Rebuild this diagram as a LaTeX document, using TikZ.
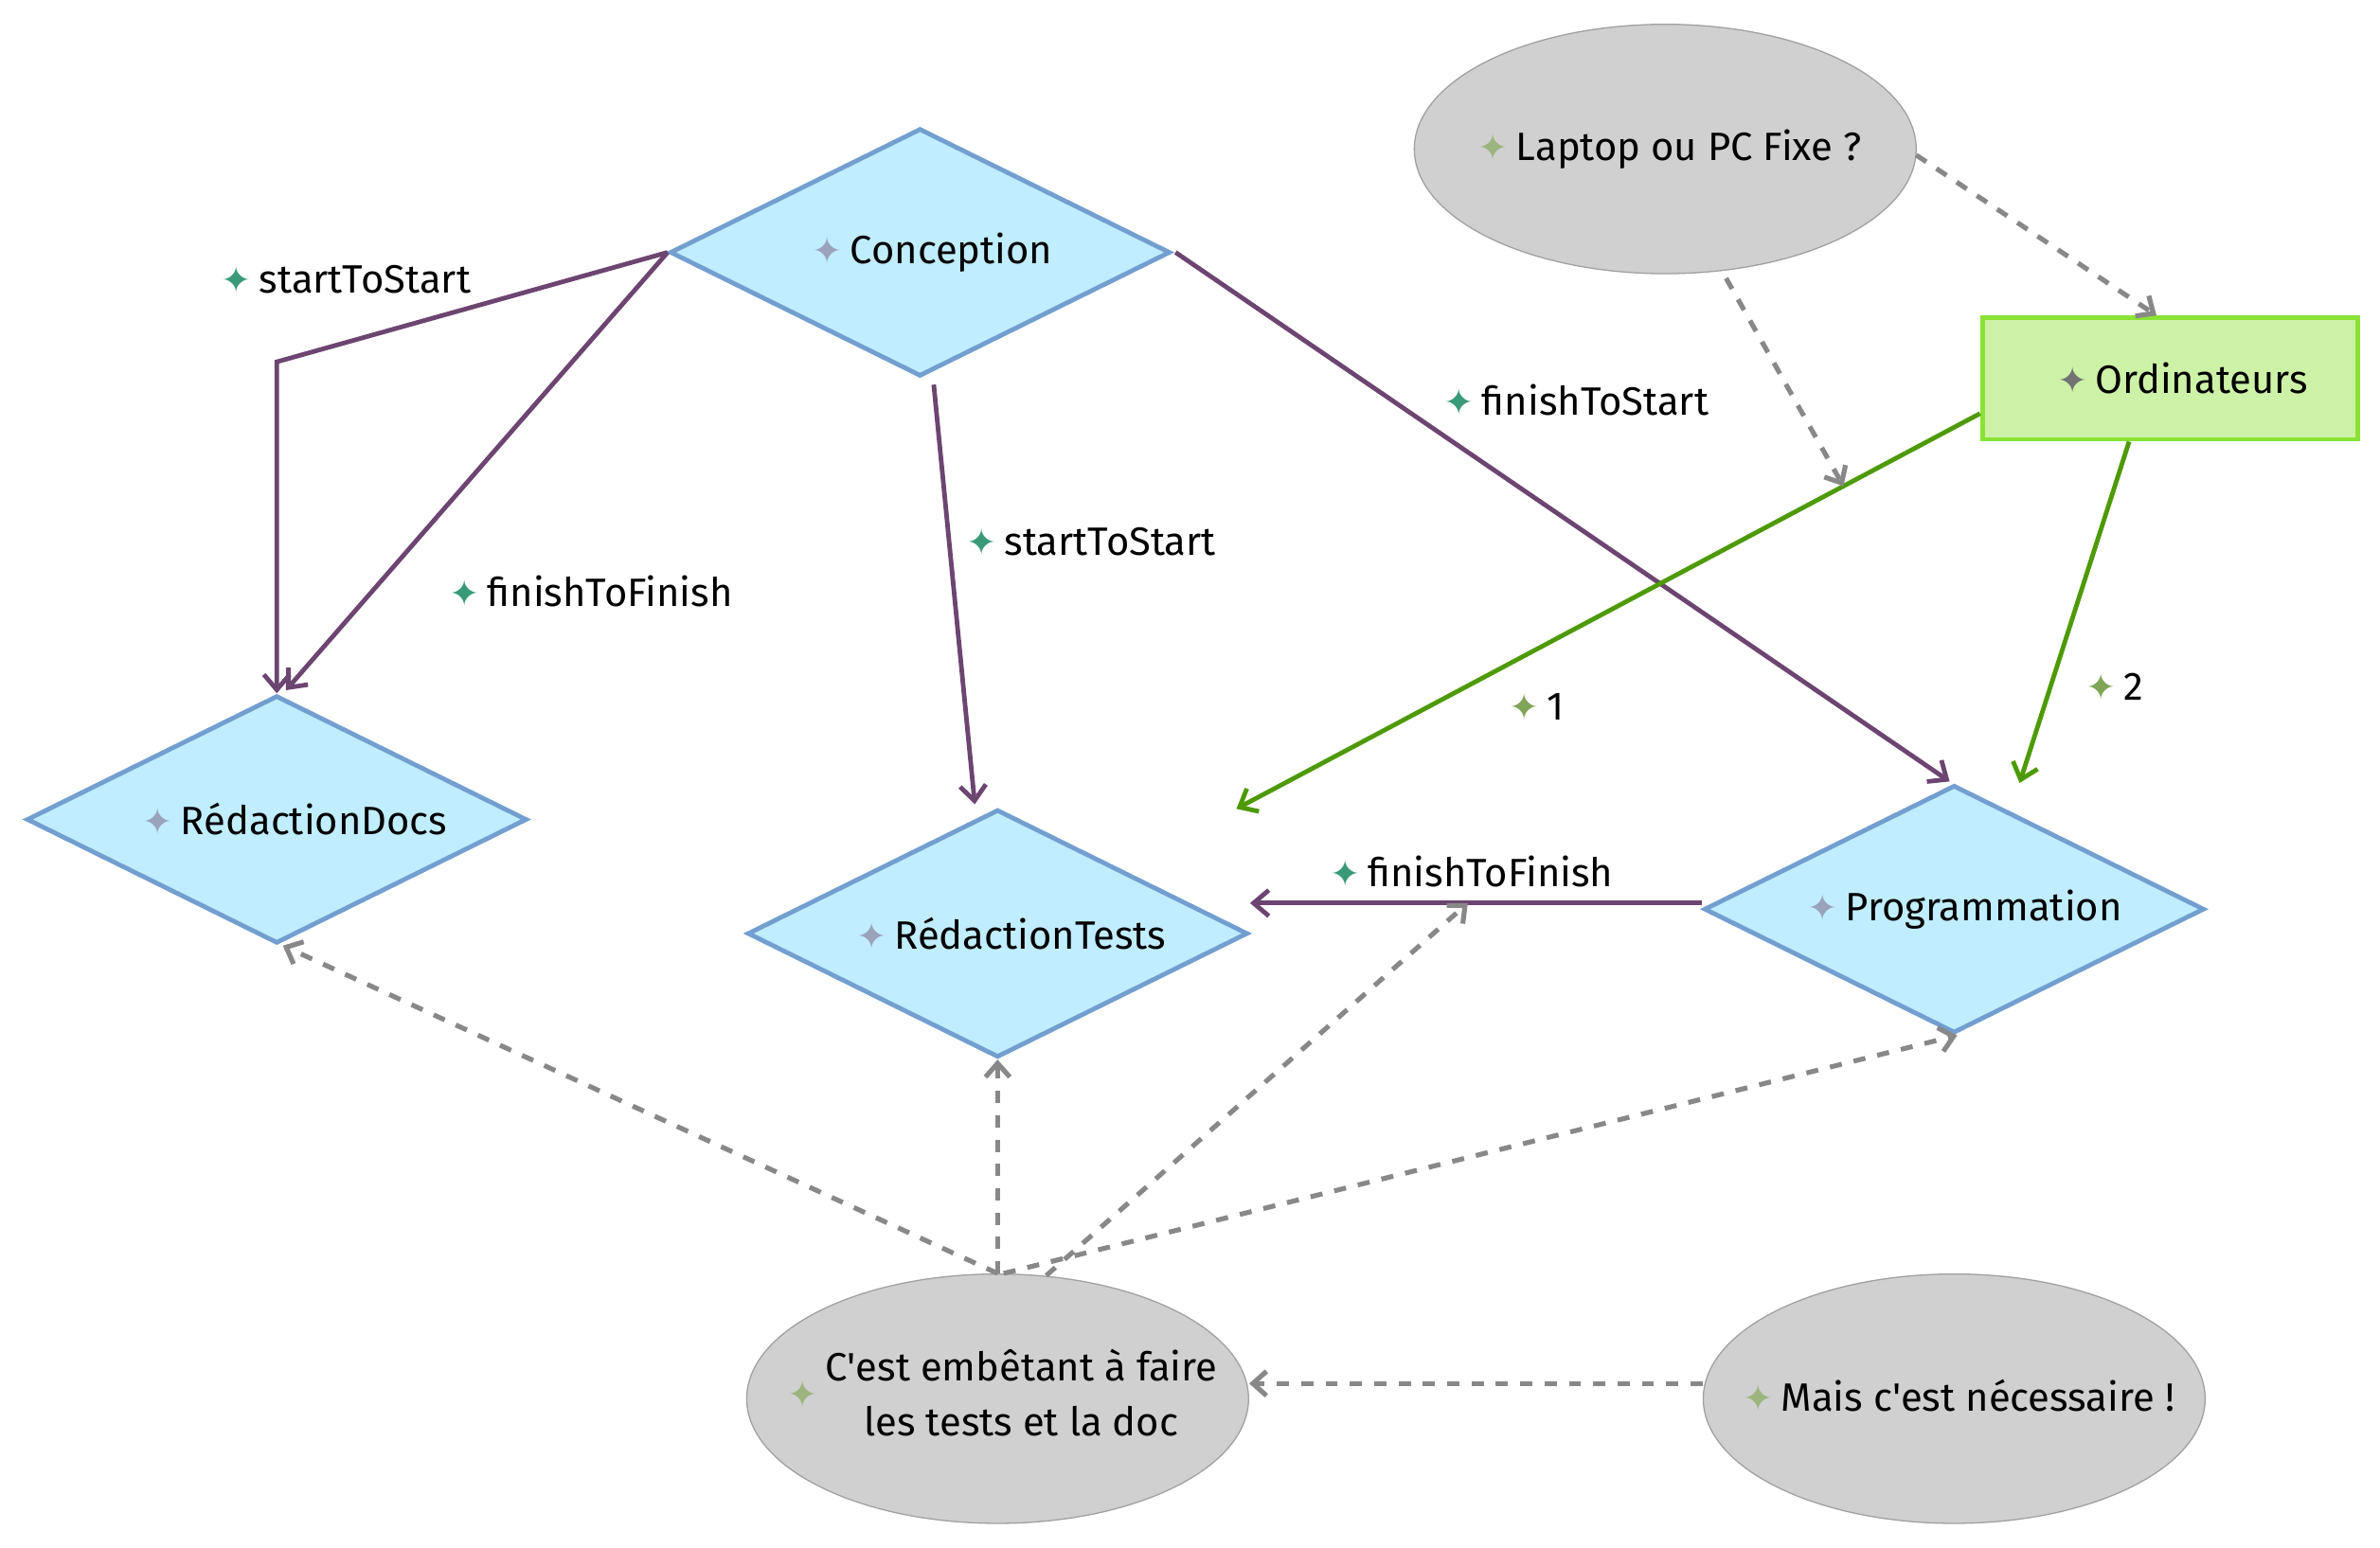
\documentclass[tikz,border=0pt]{standalone}
\usepackage{fontspec}
\setmainfont{Fira Sans}
\newfontfamily\symfont{DejaVu Sans}
\usetikzlibrary{shapes.geometric,arrows.meta,calc}
\definecolor{purp}{HTML}{6C4570}
\definecolor{grn}{HTML}{4E9A06}
\definecolor{rectfill}{HTML}{CDF2A7}
\definecolor{rectdraw}{HTML}{8AE234}
\definecolor{dfill}{HTML}{C0EDFF}
\definecolor{ddraw}{HTML}{729FCF}
\definecolor{efill}{HTML}{D0D0D0}
\definecolor{edraw}{HTML}{A0A0A0}
\definecolor{dgray}{HTML}{888888}
\definecolor{icoblue}{HTML}{9AA2BC}
\definecolor{icoell}{HTML}{9CB47E}
\definecolor{icorect}{HTML}{737373}
\definecolor{icoedge}{HTML}{3A9A78}
\definecolor{icogrn}{HTML}{80A458}
\newcommand{\ico}[1]{{\symfont\fontsize{12}{12}\selectfont\textcolor{#1}{✦}}\hspace{2.5pt}}
\begin{document}
\begin{tikzpicture}[x=0.5pt,y=-0.5pt,
  every node/.style={font=\fontsize{13}{16}\selectfont, text=black},
  diabox/.style={diamond, aspect=2, draw=ddraw, fill=dfill, line width=1.5pt,
    minimum width=164.5pt, minimum height=81.5pt, inner sep=0pt},
  ellbox/.style={ellipse, draw=edraw, fill=efill, line width=0.4pt,
    minimum width=165pt, minimum height=82pt, inner sep=0pt},
  rectbox/.style={rectangle, draw=rectdraw, fill=rectfill, line width=1.5pt,
    minimum width=123.5pt, minimum height=40pt, inner sep=0pt},
  lbl/.style={anchor=west, inner sep=0pt},
  plink/.style={draw=purp, line width=1.5pt, -{Straight Barb[length=5pt,width=8.5pt]}},
  glink/.style={draw=grn, line width=1.5pt, -{Straight Barb[length=5pt,width=8.5pt]}},
  dlink/.style={draw=dgray, line width=1.6pt, dash pattern=on 4pt off 4pt,
    -{Straight Barb[length=4.5pt,width=8pt]}}
]
\useasboundingbox (0,0) rectangle (1565,1018);

% shapes
\node[diabox] (conc) at (605,166) {};
\node[diabox] (docs) at (182,539) {};
\node[diabox] (tests) at (656,614) {};
\node[diabox] (prog) at (1285,598) {};
\node[ellbox] (lap) at (1095,98) {};
\node[rectbox] (ord) at (1427,249) {};
\node[ellbox] (cest) at (656,920) {};
\node[ellbox] (mais) at (1285,920) {};

% shape texts
\node (tconc) at ($(conc.center)+(8,0)$) {\ico{icoblue}Conception};
\node (tdocs) at ($(docs.center)+(12,0)$) {\ico{icoblue}RédactionDocs};
\node (ttests) at ($(tests.center)+(9,0)$) {\ico{icoblue}RédactionTests};
\node (tprog) at ($(prog.center)+(7,0)$) {\ico{icoblue}Programmation};
\node (tlap) at ($(lap.center)+(3,0)$) {\ico{icoell}Laptop ou PC Fixe ?};
\node (tord) at ($(ord.center)+(8,0)$) {\ico{icorect}Ordinateurs};
\node (tcest) at ($(cest.center)+(3,0)$) {\ico{icoell}\begin{tabular}{@{}c@{}}C\textquotesingle est embêtant à faire\\[2pt]les tests et la doc\end{tabular}};
\node (tmais) at ($(mais.center)+(3,-2)$) {\ico{icoell}Mais c\textquotesingle est nécessaire !};

% helper coordinates
\coordinate (k1) at (182,238);
\coordinate (ordw) at ($(ord.west)+(0,23)$);
\coordinate (tne) at ($(tests.center)+(157,-82)$);
\coordinate (k2) at ($(ordw)!0.1837!(tne)$);
\coordinate (pw) at ($(prog.west)+(0,-4)$);
\coordinate (te) at ($(tests.east)+(0,-20)$);
\coordinate (k3) at ($(pw)!0.518!(te)$);

% purple links
\draw[plink] (conc.west) -- (k1) -- (docs.north);
\draw[plink] (conc.west) -- ($(docs.north)+(6,-2)$);
\draw[plink] ($(conc.south)+(9,4)$) -- ($(tests.north)+(-15,-2)$);
\draw[plink] ($(conc.east)+(2,0)$) -- ($(prog.north)+(-3,-1)$);
\draw[plink] (pw) -- (te);

% green links
\draw[glink] (ordw) -- (tne);
\draw[glink] ($(ord.south)+(-27,0)$) -- ($(prog.north)+(43,0)$);

% dashed links
\draw[dlink] ($(lap.center)+(165,4)$) -- ($(ord.north)+(-9,0)$);
\draw[dlink] ($(lap.center)+(40,85)$) -- (k2);
\draw[dlink] (cest.north) -- ($(docs.south)+(4,0)$);
\draw[dlink] (cest.north) -- (tests.south);
\draw[dlink] ($(cest.center)+(32,-81)$) -- (k3);
\draw[dlink] ($(cest.north)+(4,0)$) -- ($(prog.south)+(2,0)$);
\draw[dlink] ($(mais.west)+(0,-10)$) -- ($(cest.east)+(0,-10)$);

% edge labels
\node[lbl] (l1) at (145,184) {\ico{icoedge}startToStart};
\node[lbl] (l2) at (295,389) {\ico{icoedge}finishToFinish};
\node[lbl] (l3) at (635,356) {\ico{icoedge}startToStart};
\node[lbl] (l4) at (949,263) {\ico{icoedge}finishToStart};
\node[lbl] (l5) at (874,573) {\ico{icoedge}finishToFinish};
\node[lbl] (l6) at (992,465) {\ico{icogrn}1};
\node[lbl] (l7) at (1371,452) {\ico{icogrn}2};
\end{tikzpicture}
\end{document}
